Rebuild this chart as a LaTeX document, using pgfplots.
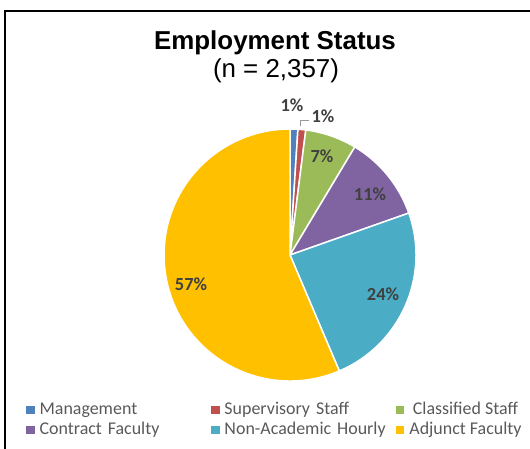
\documentclass[border=0pt]{standalone}
\usepackage{pgfplots}
\pgfplotsset{compat=1.18}
\usepackage{fontspec}
\setmainfont{Liberation Sans}
\newfontfamily\calibri{Carlito}

\definecolor{cMgmt}{HTML}{4F81BD}
\definecolor{cSup}{HTML}{C0504D}
\definecolor{cCls}{HTML}{9BBB59}
\definecolor{cCon}{HTML}{8064A2}
\definecolor{cNon}{HTML}{4BACC6}
\definecolor{cAdj}{HTML}{FFC000}
\definecolor{lbl}{HTML}{404040}
\definecolor{leg}{HTML}{595959}

\tikzset{pct/.style={font=\calibri\bfseries\fontsize{18.5}{22}\selectfont,text=lbl}}
\pgfplotsset{swatch/.style={legend image code/.code={\fill[#1] (0bp,-3.5bp) rectangle (7.5bp,3.5bp);}}}

% one wedge: start (cumulative %), share (%), colour; clockwise from 12 o'clock
\newcommand{\slice}[3]{%
  \fill[#3,draw=white,line width=1.5bp] (axis cs:290,194) -- ++({90-3.6*(#1)}:126bp)
    arc[start angle={90-3.6*(#1)},delta angle={-3.6*(#2)},radius=126bp] -- cycle;}

\begin{document}
\begin{tikzpicture}
\begin{axis}[x=1bp,y=1bp,scale only axis,xmin=0,xmax=530,ymin=0,ymax=449,
 hide axis,clip=false,
 legend columns=3,
 legend style={at={(axis cs:23,49)},anchor=north west,draw=none,fill=none,
   font=\calibri\fontsize{18}{21}\selectfont,text=leg,
   nodes={inner sep=0bp,text height=12bp,text depth=4bp},
   column sep=5.5bp,row sep=4bp,
   /tikz/column 2/.style={text width=166bp,align=left},
   /tikz/column 4/.style={text width=166bp,align=left}}]
% shares in percent: Management, Supervisory Staff, Classified Staff,
% Contract Faculty, Non-Academic Hourly, Adjunct Faculty
\slice{0}{1.0}{cMgmt}
\slice{1.0}{1.0}{cSup}
\slice{2.0}{6.6}{cCls}
\slice{8.6}{11.0}{cCon}
\slice{19.6}{24.0}{cNon}
\slice{43.6}{56.4}{cAdj}

\addlegendimage{swatch=cMgmt}\addlegendentry{Management}
\addlegendimage{swatch=cSup}\addlegendentry{Supervisory Staff}
\addlegendimage{swatch=cCls}\addlegendentry{Classified Staff}
\addlegendimage{swatch=cCon}\addlegendentry{Contract Faculty}
\addlegendimage{swatch=cNon}\addlegendentry{Non-Academic Hourly}
\addlegendimage{swatch=cAdj}\addlegendentry{Adjunct Faculty}

\node[pct] at (axis cs:191,165) {57\%};
\node[pct] at (axis cs:383,155) {24\%};
\node[pct] at (axis cs:370,255) {11\%};
\node[pct] at (axis cs:322,293) {7\%};
\node[pct] at (axis cs:292,344) {1\%};
\node[pct] at (axis cs:323,333) {1\%};
\draw[black!40,line width=0.8bp] (axis cs:300,323) -- (axis cs:300,329) -- (axis cs:309,329);

\node[anchor=base,font=\bfseries\fontsize{26}{30}\selectfont] at (axis cs:275,399) {Employment Status};
\node[anchor=base,font=\fontsize{26}{30}\selectfont] at (axis cs:276,371) {(n = 2,357)};

\draw[line width=2bp] (axis cs:5,0) -- (axis cs:5,438) -- (axis cs:530,438);
\end{axis}
\pgfresetboundingbox
\useasboundingbox (current axis.south west) rectangle (current axis.north east);
\end{tikzpicture}
\end{document}
